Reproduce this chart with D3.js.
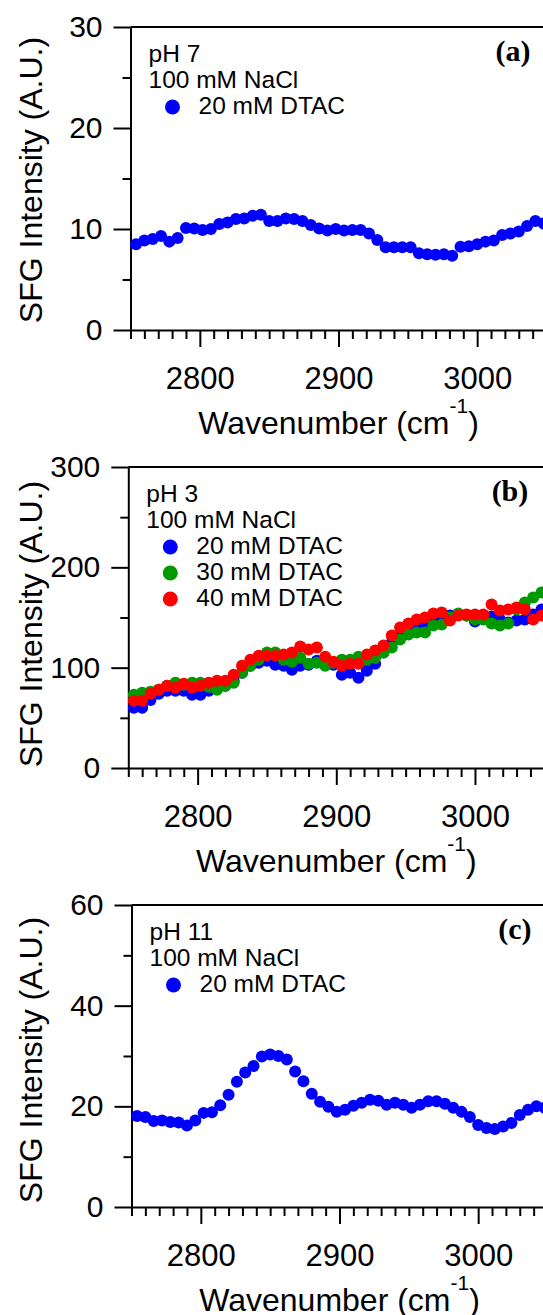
<!DOCTYPE html>
<html>
<head>
<meta charset="utf-8">
<script src="https://cdn.jsdelivr.net/npm/d3@7"></script>
<style>
  body { margin: 0; background: #fff; }
  svg { display: block; font-family: "Liberation Sans", Arial, sans-serif; }
  .axis path, .axis line { stroke: #000; stroke-width: 2; }
  .axis text { fill: #000; font-family: "Liberation Sans", Arial, sans-serif; }
  .legend-text { font-size: 24.5px; fill: #000; }
  .panel-label { font-family: "Liberation Serif", "Times New Roman", serif; font-weight: bold; font-size: 30px; }
  .axis-title { font-size: 32px; fill: #000; }
</style>
</head>
<body>
<div id="chart"></div>
<script>
// wavenumber of every measured point (cm-1)
const wavenumbers = [2754, 2760, 2766, 2772, 2778, 2784, 2790, 2796, 2802, 2808,
  2814, 2820, 2826, 2832, 2838, 2844, 2850, 2856, 2862, 2868,
  2874, 2880, 2886, 2892, 2898, 2904, 2910, 2916, 2922, 2928,
  2934, 2940, 2946, 2952, 2958, 2964, 2970, 2976, 2982, 2988,
  2994, 3000, 3006, 3012, 3018, 3024, 3030, 3036, 3042, 3048];

// (a) pH 7
const ph7Dtac20 = [8.5, 8.85, 9.0, 9.3, 8.75, 9.1, 10.1, 10.05, 9.9, 10.0,
  10.5, 10.65, 11.0, 11.05, 11.3, 11.4, 10.8, 10.8, 11.05, 11.0,
  10.8, 10.4, 10.05, 9.85, 10.0, 9.85, 9.9, 9.9, 9.55, 8.9,
  8.2, 8.2, 8.2, 8.2, 7.6, 7.5, 7.45, 7.5, 7.35, 8.25,
  8.3, 8.5, 8.75, 8.85, 9.4, 9.55, 9.75, 10.3, 10.8, 10.55];

// (b) pH 3
const ph3Dtac20 = [60, 60, 67.7, 74, 77, 77, 77, 73, 73, 77,
  80, 82, 87, 95, 102, 105, 107, 103, 102, 98,
  102, 103, 107, 105, 103, 93, 95, 90, 97, 104,
  115, 125, 132, 138, 143, 145, 147, 150, 152, 153,
  152, 146, 150, 151, 148, 145, 147, 148, 153, 158];
const ph3Dtac30 = [73, 75, 76, 78, 82, 85, 83, 85, 85, 81,
  78, 82, 85, 95, 102, 108, 115, 115, 108, 106,
  110, 104, 105, 102, 105, 108, 108, 111, 108, 110,
  115, 120, 128, 133, 135, 135, 142, 143, 150, 154,
  152, 148, 148, 144, 142, 144, 158, 165, 170, 175];
const ph3Dtac40 = [67, 67, 74, 78, 82, 80, 84, 80, 82, 85,
  87, 87, 93, 102, 108, 112, 112, 112, 113, 115,
  121, 118, 120, 111, 106, 102, 104, 104, 113, 117,
  122, 132, 140, 144, 148, 150, 154, 155, 147, 152,
  153, 153, 153, 163, 157, 158, 160, 158, 148, 152];

// (c) pH 11
const ph11Dtac20 = [18.1, 17.9, 17.1, 17.2, 16.9, 16.8, 16.2, 17.2, 18.7, 18.8,
  20.2, 22.3, 24.9, 26.7, 28.0, 29.9, 30.3, 30.0, 29.3, 26.9,
  25.0, 22.5, 20.9, 19.9, 18.9, 19.3, 20.1, 20.7, 21.3, 21.1,
  20.3, 20.7, 20.3, 19.7, 20.3, 21.0, 21.0, 20.5, 19.7, 18.9,
  17.9, 16.3, 15.7, 15.5, 16.0, 16.7, 18.3, 19.3, 20.0, 19.7];

const xDomain = [2750, 3050];
const xMajorTicks = [2800, 2900, 3000];
const yTicksA = [0, 10, 20, 30];
const yTicksB = [0, 100, 200, 300];
const yTicksC = [0, 20, 40, 60];

const BLUE = "#0000ff", GREEN = "#009a00", RED = "#ff0000";

const WIDTH = 543, HEIGHT = 1315;
const svg = d3.select("#chart").append("svg")
  .attr("width", WIDTH)
  .attr("height", HEIGHT);

function drawPanel(cfg) {
  const g = svg.append("g");

  const x = d3.scaleLinear().domain(xDomain).range([cfg.left, cfg.left + 416]);
  const y = d3.scaleLinear().domain([0, cfg.yTicks[cfg.yTicks.length - 1]]).range([cfg.bottom, cfg.top]);

  const step = cfg.yTicks[1] - cfg.yTicks[0];
  const yMinor = cfg.yTicks.slice(1).map(v => v - step / 2);
  const xMinor = d3.range(2750, 3051, 10).filter(v => !xMajorTicks.includes(v));

  // top frame
  g.append("line")
    .attr("x1", x(xDomain[0])).attr("x2", x(xDomain[1]))
    .attr("y1", y.range()[1]).attr("y2", y.range()[1])
    .attr("stroke", "#000").attr("stroke-width", 2);

  // minor ticks
  g.append("g")
    .attr("class", "axis")
    .attr("transform", `translate(0, ${cfg.bottom})`)
    .call(d3.axisBottom(x).tickValues(xMinor).tickSize(9).tickFormat(""))
    .call(a => a.select(".domain").remove());
  g.append("g")
    .attr("class", "axis")
    .attr("transform", `translate(${cfg.left}, 0)`)
    .call(d3.axisLeft(y).tickValues(yMinor).tickSize(8).tickFormat(""))
    .call(a => a.select(".domain").remove());

  // major ticks + labels
  const xAxis = g.append("g")
    .attr("class", "axis")
    .attr("transform", `translate(0, ${cfg.bottom})`)
    .call(d3.axisBottom(x).tickValues(xMajorTicks).tickFormat(d3.format("d"))
      .tickSize(17).tickSizeOuter(0).tickPadding(20));
  xAxis.selectAll("text").attr("font-size", 31);

  const yAxis = g.append("g")
    .attr("class", "axis")
    .attr("transform", `translate(${cfg.left}, 0)`)
    .call(d3.axisLeft(y).tickValues(cfg.yTicks).tickFormat(d3.format("d"))
      .tickSize(17).tickSizeOuter(0).tickPadding(11));
  yAxis.selectAll("text").attr("font-size", 30);

  // points
  cfg.series.forEach(s => {
    g.append("g")
      .selectAll("circle")
      .data(s.values)
      .join("circle")
      .attr("cx", (d, i) => x(wavenumbers[i]))
      .attr("cy", d => y(d))
      .attr("r", 6)
      .attr("fill", s.color);
  });

  // legend
  const lx = cfg.left;
  g.append("text").attr("class", "legend-text")
    .attr("x", lx + 18).attr("y", cfg.top + 35).text(cfg.ph);
  g.append("text").attr("class", "legend-text")
    .attr("x", lx + 18).attr("y", cfg.top + 61).text("100 mM NaCl");
  cfg.series.forEach((s, i) => {
    const by = cfg.top + 87 + i * 26;
    g.append("circle").attr("cx", lx + 42).attr("cy", by - 7).attr("r", 7.5).attr("fill", s.color);
    g.append("text").attr("class", "legend-text")
      .attr("x", lx + 68).attr("y", by).text(s.name);
  });

  g.append("text").attr("class", "panel-label")
    .attr("x", cfg.left + 400).attr("y", cfg.top + 34)
    .attr("text-anchor", "end").text(cfg.label);

  // axis titles
  g.append("text").attr("class", "axis-title")
    .attr("transform", "rotate(-90)")
    .attr("x", -cfg.titleY).attr("y", 42)
    .attr("text-anchor", "middle")
    .text("SFG Intensity (A.U.)");

  const xt = g.append("text").attr("class", "axis-title")
    .attr("x", x(2900)).attr("y", cfg.bottom + 104)
    .attr("text-anchor", "middle");
  xt.append("tspan").text("Wavenumber (cm");
  xt.append("tspan").attr("font-size", 21).attr("dy", -21).text("-1");
  xt.append("tspan").attr("dy", 21).text(")");
}

drawPanel({
  left: 130.5, top: 27, bottom: 330, yTicks: yTicksA, titleY: 180,
  ph: "pH 7", label: "(a)",
  series: [{ name: "20 mM DTAC", values: ph7Dtac20, color: BLUE }]
});

drawPanel({
  left: 128.3, top: 467, bottom: 768, yTicks: yTicksB, titleY: 624,
  ph: "pH 3", label: "(b)",
  series: [
    { name: "20 mM DTAC", values: ph3Dtac20, color: BLUE },
    { name: "30 mM DTAC", values: ph3Dtac30, color: GREEN },
    { name: "40 mM DTAC", values: ph3Dtac40, color: RED }
  ]
});

drawPanel({
  left: 131.5, top: 905, bottom: 1207, yTicks: yTicksC, titleY: 1060,
  ph: "pH 11", label: "(c)",
  series: [{ name: "20 mM DTAC", values: ph11Dtac20, color: BLUE }]
});
</script>
</body>
</html>
